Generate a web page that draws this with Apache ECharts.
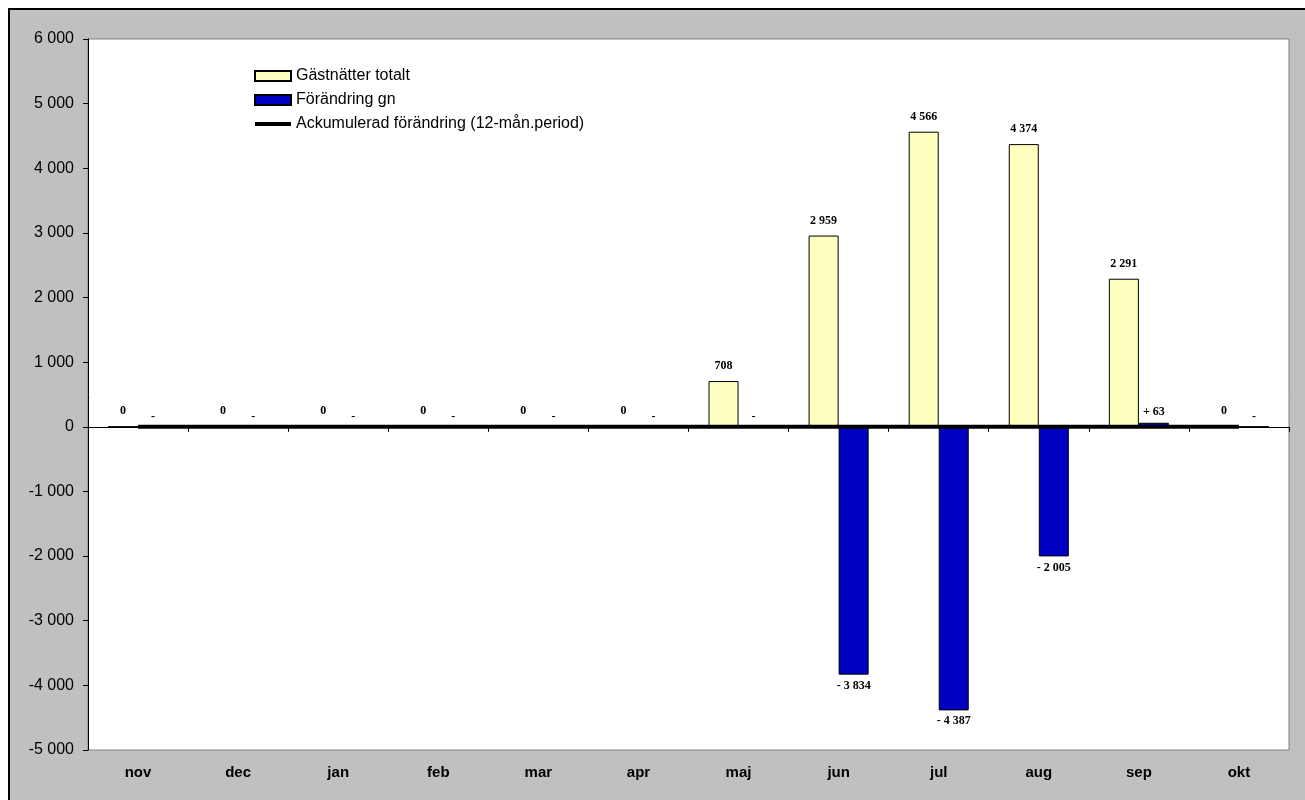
<!DOCTYPE html>
<html>
<head>
<meta charset="utf-8">
<script src="https://cdn.jsdelivr.net/npm/echarts@6/dist/echarts.min.js"></script>
<style>
html,body{margin:0;padding:0;background:#fff;}
#bg{position:absolute;left:8px;top:8px;width:1297px;height:792px;background:#c0c0c0;border-top:2px solid #000;border-left:2px solid #000;box-sizing:border-box;}
#c{position:absolute;left:0;top:0;width:1305px;height:800px;}
</style>
</head>
<body>
<div id="bg"></div>
<div id="c"></div>
<script>
const categories = ['nov','dec','jan','feb','mar','apr','maj','jun','jul','aug','sep','okt'];
const totals = [0,0,0,0,0,0,708,2959,4566,4374,2291,0];
const changes = [0,0,0,0,0,0,0,-3834,-4387,-2005,63,0];
const accumulated = [0,0,0,0,0,0,0,0,0,0,0,0];
const seriesNames = ['Gästnätter totalt','Förändring gn','Ackumulerad förändring (12-mån.period)'];

function grp(n){ return Math.abs(n).toString().replace(/\B(?=(\d{3})+(?!\d))/g,' '); }
function fmtAxis(v){ return (v<0?'-':'') + grp(v); }
function fmtChange(v){ if(v===0) return '-'; return (v<0?'- ':'+ ') + grp(v); }

const labelFont = {fontFamily:'Liberation Serif', fontWeight:'bold', fontSize:12, color:'#000'};

const chart = echarts.init(document.getElementById('c'));
chart.setOption({
  backgroundColor:'transparent',
  animation:false,
  grid:{left:88,right:16,top:39,bottom:50,show:true,backgroundColor:'#fff',borderColor:'#808080',borderWidth:1},
  legend:{
    orient:'vertical',left:248,top:63,itemWidth:36,itemHeight:10,itemGap:8,
    textStyle:{fontFamily:'Liberation Sans',fontSize:16,color:'#000'},
    data:[
      {name:seriesNames[0],icon:'rect'},
      {name:seriesNames[1],icon:'rect'},
      {name:seriesNames[2],itemStyle:{opacity:0},lineStyle:{width:4,color:'#000'}}
    ]
  },
  xAxis:[
    {type:'category',data:categories,position:'bottom',
     axisLine:{show:false,onZero:false},axisTick:{show:false},
     axisLabel:{fontFamily:'Liberation Sans',fontWeight:'bold',fontSize:15,color:'#000',margin:15}},
    {type:'category',data:categories,position:'bottom',
     axisLine:{show:true,onZero:true,lineStyle:{color:'#000',width:1}},
     axisTick:{show:true,length:5,lineStyle:{color:'#000'}},
     axisLabel:{show:false}}
  ],
  yAxis:{type:'value',min:-5000,max:6000,interval:1000,
    axisLine:{show:true,onZero:false,lineStyle:{color:'#000'}},
    axisTick:{show:true,length:5,lineStyle:{color:'#000'}},
    splitLine:{show:false},
    axisLabel:{formatter:fmtAxis,fontFamily:'Liberation Sans',fontSize:16,color:'#000',margin:14}},
  series:[
    {name:seriesNames[0],type:'bar',xAxisIndex:0,barWidth:'30%',barGap:'0%',
     itemStyle:{color:'#FFFFC0',borderColor:'#000',borderWidth:1},
     label:Object.assign({show:true,position:'top',distance:9,formatter:p=>grp(p.value)},labelFont),
     data:totals},
    {name:seriesNames[1],type:'bar',xAxisIndex:0,barWidth:'30%',barGap:'0%',
     itemStyle:{color:'#0000C0',borderColor:'#000',borderWidth:1},
     data:changes.map(v=>({value:v,label:Object.assign({show:true,position:v<0?'bottom':'top',distance:v===0?3:5,formatter:p=>fmtChange(p.value)},labelFont)}))},
    {name:seriesNames[2],type:'line',xAxisIndex:0,symbol:'none',
     lineStyle:{color:'#000',width:4},itemStyle:{color:'#000'},z:5,
     data:accumulated}
  ]
});
</script>
</body>
</html>
